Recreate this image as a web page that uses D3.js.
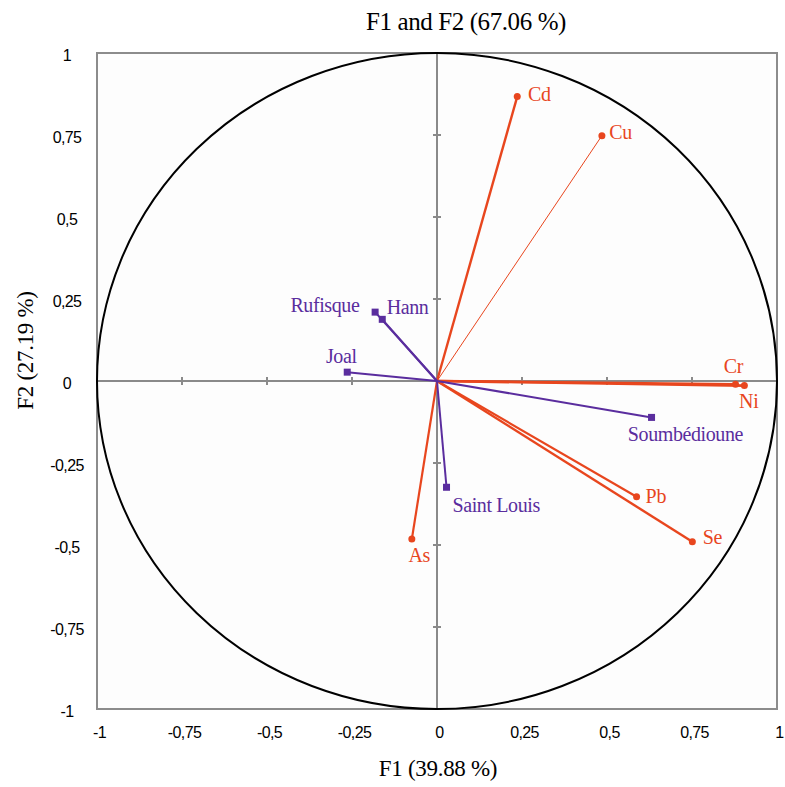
<!DOCTYPE html>
<html>
<head>
<meta charset="utf-8">
<script src="https://cdn.jsdelivr.net/npm/d3@7"></script>
<style>
  html, body { margin: 0; padding: 0; background: #ffffff; }
  svg { display: block; }
</style>
</head>
<body>
<div id="chart"></div>
<script>
// ---- data ----
const variables = ["Cd", "Cu", "Cr", "Ni", "Pb", "Se", "As"];
const varF1 = [0.236, 0.485, 0.878, 0.904, 0.587, 0.751, -0.074];
const varF2 = [0.867, 0.748, -0.010, -0.014, -0.353, -0.490, -0.482];

const sites = ["Rufisque", "Hann", "Joal", "Soumbédioune", "Saint Louis"];
const siteF1 = [-0.182, -0.161, -0.264, 0.631, 0.028];
const siteF2 = [0.210, 0.188, 0.027, -0.111, -0.324];

const axisTicks = [-1, -0.75, -0.5, -0.25, 0, 0.25, 0.5, 0.75, 1];
const titleText = "F1 and F2 (67.06 %)";
const xTitle = "F1 (39.88 %)";
const yTitle = "F2 (27.19 %)";

// ---- styles / label placement (not data) ----
const ORANGE = "#e8461e";
const PURPLE = "#5a2d9e";
const varStyle = {
  Cd: { w: 2.4, dx: 10.7, dy: 4, anchor: "start" },
  Cu: { w: 1.0, dx: 7.3, dy: 3.3, anchor: "start" },
  Cr: { w: 2.6, dx: -11.7, dy: -11.6, anchor: "start" },
  Ni: { w: 2.6, dx: -5.3, dy: 22, anchor: "start" },
  Pb: { w: 2.2, dx: 9, dy: 6, anchor: "start" },
  Se: { w: 2.4, dx: 10.4, dy: 2.6, anchor: "start" },
  As: { w: 2.2, dx: -3.4, dy: 22.7, anchor: "start" }
};
const siteStyle = {
  "Rufisque": { dx: -15.7, dy: 0, anchor: "end" },
  "Hann": { dx: 4.4, dy: -5, anchor: "start" },
  "Joal": { dx: -21.3, dy: -8.7, anchor: "start" },
  "Soumbédioune": { dx: -23.7, dy: 23.4, anchor: "start" },
  "Saint Louis": { dx: 6, dy: 24.4, anchor: "start" }
};

const W = 785, H = 787;
const plot = { left: 97, right: 777, top: 53, bottom: 709 };

const svg = d3.select("#chart").append("svg")
  .attr("width", W).attr("height", H)
  .style("font-family", "'Liberation Serif', 'Times New Roman', serif");

const x = d3.scaleLinear().domain([-1, 1]).range([plot.left, plot.right]);
const y = d3.scaleLinear().domain([-1, 1]).range([plot.bottom, plot.top]);

// plot background + border
svg.append("rect")
  .attr("x", plot.left).attr("y", plot.top)
  .attr("width", plot.right - plot.left).attr("height", plot.bottom - plot.top)
  .attr("fill", "#fdfdfd").attr("stroke", "#8c8c8c").attr("stroke-width", 2);

// axes tick labels (via d3 axes)
const fmt = d => String(d).replace(".", ",");
const xAxis = svg.append("g")
  .attr("transform", `translate(0,${plot.bottom})`)
  .call(d3.axisBottom(x).tickValues(axisTicks).tickFormat(fmt).tickSize(0).tickPadding(18));
const yAxis = svg.append("g")
  .attr("transform", `translate(${plot.left},0)`)
  .call(d3.axisLeft(y).tickValues(axisTicks).tickFormat(fmt).tickSize(0));
[xAxis, yAxis].forEach(g => {
  g.select(".domain").remove();
  g.selectAll("text")
    .style("font-family", "'Liberation Sans', Arial, sans-serif")
    .style("font-size", "16px")
    .style("letter-spacing", "-0.6px")
    .attr("fill", "#000");
});
xAxis.selectAll("text").attr("dx", 2);
yAxis.selectAll("text").attr("x", -30).attr("text-anchor", "middle").attr("dy", "0.45em");

// zero axes inside the plot
const axisColor = "#8a8a8a";
svg.append("line")
  .attr("x1", x(-1)).attr("x2", x(1)).attr("y1", y(0)).attr("y2", y(0))
  .attr("stroke", axisColor).attr("stroke-width", 2);
svg.append("line")
  .attr("x1", x(0)).attr("x2", x(0)).attr("y1", y(-1)).attr("y2", y(1))
  .attr("stroke", axisColor).attr("stroke-width", 2);
const inner = axisTicks.filter(t => Math.abs(t) < 1 && t !== 0);
svg.append("g").selectAll("line").data(inner).join("line")
  .attr("x1", d => x(d)).attr("x2", d => x(d))
  .attr("y1", y(0) - 4).attr("y2", y(0) + 4)
  .attr("stroke", axisColor).attr("stroke-width", 2);
svg.append("g").selectAll("line").data(inner).join("line")
  .attr("y1", d => y(d)).attr("y2", d => y(d))
  .attr("x1", x(0) - 4).attr("x2", x(0) + 4)
  .attr("stroke", axisColor).attr("stroke-width", 2);

// correlation circle
svg.append("ellipse")
  .attr("cx", x(0)).attr("cy", y(0))
  .attr("rx", x(1) - x(0)).attr("ry", y(0) - y(1))
  .attr("fill", "none").attr("stroke", "#000").attr("stroke-width", 2);

const varData = variables.map((n, i) => ({ name: n, f1: varF1[i], f2: varF2[i] }));
const siteData = sites.map((n, i) => ({ name: n, f1: siteF1[i], f2: siteF2[i] }));

// variables (orange)
svg.append("g").selectAll("line").data(varData).join("line")
  .attr("x1", x(0)).attr("y1", y(0))
  .attr("x2", d => x(d.f1)).attr("y2", d => y(d.f2))
  .attr("stroke", ORANGE).attr("stroke-width", d => varStyle[d.name].w);
svg.append("g").selectAll("circle").data(varData).join("circle")
  .attr("cx", d => x(d.f1)).attr("cy", d => y(d.f2)).attr("r", 3.5)
  .attr("fill", ORANGE);

// sites (purple)
svg.append("g").selectAll("line").data(siteData).join("line")
  .attr("x1", x(0)).attr("y1", y(0))
  .attr("x2", d => x(d.f1)).attr("y2", d => y(d.f2))
  .attr("stroke", PURPLE).attr("stroke-width", 2);
svg.append("g").selectAll("rect").data(siteData).join("rect")
  .attr("x", d => x(d.f1) - 3.5).attr("y", d => y(d.f2) - 3.5)
  .attr("width", 7).attr("height", 7)
  .attr("fill", PURPLE);

// labels
svg.append("g").selectAll("text").data(varData).join("text")
  .attr("x", d => x(d.f1) + varStyle[d.name].dx)
  .attr("y", d => y(d.f2) + varStyle[d.name].dy)
  .attr("text-anchor", d => varStyle[d.name].anchor)
  .attr("fill", ORANGE).style("font-size", "20px").style("letter-spacing", "-0.3px")
  .text(d => d.name);
svg.append("g").selectAll("text").data(siteData).join("text")
  .attr("x", d => x(d.f1) + siteStyle[d.name].dx)
  .attr("y", d => y(d.f2) + siteStyle[d.name].dy)
  .attr("text-anchor", d => siteStyle[d.name].anchor)
  .attr("fill", PURPLE).style("font-size", "20px").style("letter-spacing", "-0.4px")
  .text(d => d.name);

// titles
svg.append("text").attr("x", 466).attr("y", 29.5)
  .attr("text-anchor", "middle").style("font-size", "25px").style("letter-spacing", "-0.4px")
  .attr("fill", "#000")
  .text(titleText);
svg.append("text").attr("x", 438).attr("y", 776)
  .attr("text-anchor", "middle").style("font-size", "23px").style("letter-spacing", "-0.3px")
  .attr("fill", "#000")
  .text(xTitle);
svg.append("text")
  .attr("transform", "translate(33,350.5) rotate(-90)")
  .attr("text-anchor", "middle").style("font-size", "23px").style("letter-spacing", "-0.3px")
  .attr("fill", "#000")
  .text(yTitle);
</script>
</body>
</html>
